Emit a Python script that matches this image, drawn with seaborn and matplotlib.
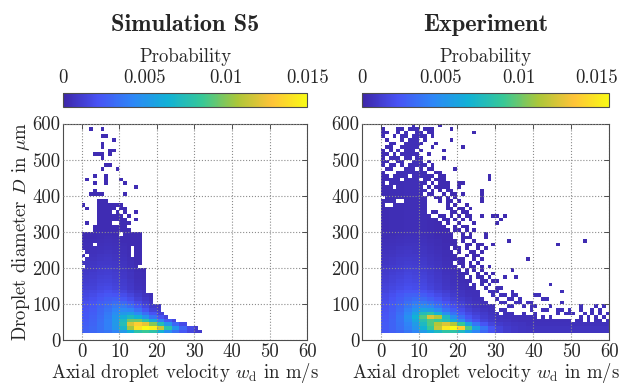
import numpy as np
import pandas as pd
import seaborn as sns
import matplotlib.pyplot as plt
from matplotlib.colors import LinearSegmentedColormap

# bin edges of the 2D histograms
v_edges = np.arange(0, 61, 1)      # axial velocity, m/s
d_edges = np.arange(20, 601, 10)   # diameter, um
cbar_ticks = [0, 0.005, 0.01, 0.015]
cbar_ticklabels = ['0', '0.005', '0.01', '0.015']

# ---------------- Simulation S5 ----------------
# upper edge (um) of the filled region for each 1 m/s velocity bin
sim_top = [300, 300, 300, 320, 390, 390, 390, 380, 380, 380, 380, 370, 330, 300, 300, 300,
           200, 130, 130, 100, 100, 80, 70, 60, 60, 50, 50, 50, 40, 40, 40, 30]
sim_holes = [(0, 240), (0, 220), (1, 230), (0, 200), (3, 260), (8, 350), (9, 360), (8, 320),
             (9, 320), (10, 290), (10, 350), (12, 310), (11, 340), (13, 250), (13, 240),
             (13, 230), (15, 200)]
sim_dots = [(2, 580), (5, 580), (5, 560), (6, 560), (8, 550), (5, 540), (5, 530), (7, 520),
            (8, 520), (7, 510), (3, 510), (4, 510), (5, 510), (5, 500), (6, 480), (7, 480),
            (9, 470), (5, 470), (1, 440), (3, 450), (6, 450), (6, 440), (6, 430), (10, 440),
            (11, 430), (3, 430), (14, 420), (3, 410), (2, 400), (3, 400), (4, 400), (5, 400),
            (11, 400), (0, 370), (1, 360), (1, 320), (14, 350), (14, 330), (12, 340)]
# probability (1e-4) for rows D = 20..140 um, columns v = 0-2, 2-4, ... 30-32 m/s
sim_low = [
    [28, 30, 33, 36, 42, 52, 65, 80, 85, 80, 65, 48, 34, 24, 16, 10],
    [27, 30, 34, 40, 50, 68, 105, 140, 150, 145, 115, 80, 50, 30, 18, 10],
    [26, 29, 34, 40, 52, 75, 118, 132, 122, 100, 75, 50, 30, 18, 10, 8],
    [25, 28, 33, 40, 52, 72, 95, 95, 80, 60, 40, 25, 16, 10, 8, 6],
    [24, 27, 32, 39, 50, 62, 72, 65, 50, 35, 22, 15, 10, 8, 6, 5],
    [23, 26, 31, 37, 46, 52, 55, 45, 33, 22, 14, 10, 8, 6, 5, 4],
    [22, 25, 30, 35, 42, 44, 42, 33, 22, 14, 10, 8, 6, 5, 4, 4],
    [21, 24, 28, 32, 37, 37, 32, 24, 16, 10, 8, 6, 5, 4, 4, 4],
    [20, 22, 26, 29, 32, 30, 25, 18, 12, 8, 6, 5, 4, 4, 4, 4],
    [18, 20, 23, 26, 27, 24, 19, 13, 9, 6, 5, 4, 4, 4, 4, 4],
    [16, 18, 21, 23, 22, 19, 15, 10, 7, 5, 4, 4, 4, 4, 4, 4],
    [15, 16, 18, 20, 18, 15, 11, 8, 6, 4, 4, 4, 4, 4, 4, 4],
    [13, 14, 16, 17, 15, 12, 9, 6, 5, 4, 4, 4, 4, 4, 4, 4],
]
sim_fade = [0.92, 0.85, 0.78, 0.72, 0.66, 0.6, 0.55, 0.5, 0.45, 0.4, 0.36, 0.32, 0.28, 0.25, 0.22, 0.2]

# ---------------- Experiment ----------------
exp_top = [460, 460, 450, 460, 470, 470, 480, 490, 500, 470, 440, 400, 360, 360, 360, 350,
           350, 340, 300, 280, 260, 230, 200, 180, 160, 140, 120, 110, 100, 100,
           90, 90, 90, 80, 80, 80, 80, 80, 80, 70, 80, 70, 70, 70, 70, 70, 60, 70, 60, 60,
           60, 60, 70, 60, 70, 60, 70, 60, 70, 60]
exp_holes = [(1, 370), (2, 370), (4, 380), (5, 380), (1, 430), (5, 440), (0, 390), (7, 450),
             (3, 420), (13, 340), (14, 340), (12, 350), (16, 320), (17, 310), (15, 330),
             (18, 250), (19, 240), (20, 230), (19, 210), (20, 200), (21, 190), (22, 170),
             (23, 150), (30, 80), (31, 70), (35, 70), (38, 70), (41, 60), (43, 60), (47, 60),
             (50, 50), (53, 50), (55, 50), (58, 50), (45, 60), (36, 70)]
# isolated cells above the filled region: diameter row -> velocity bins
exp_dots_top = {590: [8, 15], 580: [0, 4, 5, 7, 8, 9, 11, 12, 13, 18],
                570: [0, 1, 4, 6, 9, 10, 12, 13, 24], 560: [0, 3, 5, 6, 8, 9, 10, 11, 13],
                550: [1, 5, 7, 8, 9, 11, 18], 540: [2, 3, 6, 7, 8, 9, 10, 14],
                530: [1, 2, 5, 6, 7, 8, 9, 13, 21], 520: [0, 2, 4, 6, 7, 8, 10, 16],
                510: [0, 1, 3, 5, 6, 7, 8, 9, 12], 500: [0, 2, 3, 4, 6, 7, 9, 10, 16],
                490: [0, 1, 4, 5, 8, 9, 10, 12], 480: [0, 2, 3, 5, 7, 9, 10, 11, 13],
                470: [1, 2, 6, 10, 12, 13, 19], 460: [0, 4, 5, 9, 10, 11, 14, 15],
                450: [3, 10, 11, 12, 13, 15, 16, 28], 440: [11, 12, 14, 15, 16, 28],
                430: [11, 13, 15, 16, 17, 20, 21], 420: [12, 14, 15, 16, 17, 20],
                410: [11, 13, 15, 17, 18, 26], 400: [12, 13, 16, 18, 19, 21, 26]}
exp_dots_mid = {390: [14, 15, 17, 19, 26], 380: [15, 17, 18, 20, 26], 370: [17, 19, 22],
                360: [17, 18, 20, 21, 23], 350: [18, 19, 21, 22],
                340: [18, 20, 22, 23, 26, 29, 30, 32], 330: [19, 21, 23, 31], 320: [20, 24, 30],
                310: [19, 21, 22], 300: [19, 20, 22, 24], 290: [21, 23, 27],
                280: [21, 22, 23, 27], 270: [21, 24, 33, 53], 260: [22, 23, 25, 26, 29, 46],
                250: [22, 25, 27], 240: [23, 24, 26], 230: [22, 24, 25], 220: [24, 26, 38],
                210: [23, 25], 200: [23, 24, 26, 28]}
exp_dots_tail = {190: [24, 26, 34], 180: [25, 27, 29], 170: [25, 26, 28, 32, 35],
                 160: [26, 27, 29, 30], 150: [26, 28, 44], 140: [27, 30, 31],
                 130: [28, 29, 30, 34, 47], 120: [29, 31, 32, 34, 35, 40, 41],
                 110: [30, 33, 34, 36, 42, 43], 100: [31, 32, 35, 36, 38, 39, 47],
                 90: [33, 34, 37, 39, 40, 44, 52, 56, 58],
                 80: [39, 42, 43, 46, 47, 49, 52, 55, 57], 70: [46, 48, 49, 50, 53, 55, 57, 59]}
# probability (1e-4) for rows D = 20..140 um, columns v = 0-2, 2-4, ... 38-40 m/s
exp_low = [
    [25, 28, 32, 38, 45, 55, 65, 75, 85, 85, 75, 60, 45, 32, 22, 15, 11, 9, 8, 7],
    [26, 30, 35, 42, 52, 68, 90, 120, 150, 158, 140, 95, 60, 38, 24, 15, 11, 9, 8, 7],
    [26, 30, 36, 44, 56, 75, 95, 115, 125, 115, 90, 60, 38, 24, 16, 11, 9, 8, 7, 6],
    [25, 30, 37, 47, 62, 82, 95, 90, 80, 65, 48, 32, 22, 15, 11, 8, 7, 6, 5, 5],
    [24, 29, 37, 50, 68, 95, 125, 115, 75, 50, 35, 24, 17, 12, 9, 7, 6, 5, 5, 5],
    [23, 28, 35, 46, 60, 78, 85, 70, 50, 36, 26, 18, 13, 10, 7, 6, 5, 5, 5, 5],
    [22, 27, 33, 42, 52, 60, 58, 48, 36, 27, 20, 14, 10, 8, 6, 5, 5, 5, 5, 5],
    [21, 26, 31, 38, 45, 48, 45, 37, 28, 21, 16, 11, 8, 6, 5, 5, 5, 5, 5, 5],
    [20, 25, 29, 35, 40, 40, 36, 30, 23, 17, 13, 9, 7, 5, 5, 5, 5, 5, 5, 5],
    [19, 23, 27, 31, 34, 33, 29, 24, 18, 14, 10, 8, 6, 5, 5, 5, 5, 5, 5, 5],
    [18, 21, 25, 28, 29, 27, 23, 19, 15, 11, 8, 6, 5, 5, 5, 5, 5, 5, 5, 5],
    [16, 19, 22, 24, 24, 22, 19, 15, 12, 9, 7, 5, 5, 5, 5, 5, 5, 5, 5, 5],
    [15, 17, 19, 21, 20, 18, 15, 12, 9, 7, 5, 4, 4, 4, 4, 4, 4, 4, 4, 4],
]
exp_fade = [0.93, 0.86, 0.8, 0.74, 0.68, 0.62, 0.57, 0.52, 0.47, 0.43, 0.39, 0.35, 0.31, 0.28, 0.25, 0.22]


def build(top, holes, dots, low, fade, floor=3):
    cells = set()
    for v, t in enumerate(top):
        for d in range(20, t, 10):
            cells.add((v, d))
    cells -= set(holes)
    cells |= set(dots)
    recs = []
    for v, d in sorted(cells):
        g = min(v // 2, len(low[0]) - 1)
        r = (d - 20) // 10
        if r < len(low):
            p = low[r][g]
        else:
            p = low[-1][g] * fade[min(r - len(low), len(fade) - 1)]
        recs.append({'v': v + 0.5, 'D': d + 5, 'p': max(p, floor) * 1e-4})
    return pd.DataFrame(recs)


def row_dots(*tables):
    return [(v, d) for t in tables for d, vs in t.items() for v in vs]


sim = build(sim_top, sim_holes, sim_dots, sim_low, sim_fade)
exp = build(exp_top, exp_holes, row_dots(exp_dots_top, exp_dots_mid, exp_dots_tail),
            exp_low, exp_fade)

parula = LinearSegmentedColormap.from_list('parula', [
    (0.2422, 0.1504, 0.6603), (0.2810, 0.3228, 0.9579), (0.1786, 0.5289, 0.9682),
    (0.0689, 0.6948, 0.8394), (0.2161, 0.7843, 0.5923), (0.6720, 0.7793, 0.2227),
    (0.9970, 0.7659, 0.2199), (0.9769, 0.9839, 0.0805)])

sns.set_style('white')
plt.rcParams['font.family'] = ['cmr10', 'DejaVu Serif']
plt.rcParams['mathtext.fontset'] = 'cm'
plt.rcParams['axes.unicode_minus'] = False
fs = 13.5
edge = '#4d4d4d'

fig = plt.figure(figsize=(6.2, 3.85), dpi=100)
panels = [
    (sim, 'Simulation S5', 0.1015, 0.394, 0.015),
    (exp, 'Experiment', 0.5840, 0.399, 0.0158),
]
for i, (df, title, left, width, vmax) in enumerate(panels):
    ax = fig.add_axes([left, 0.1156, width, 0.5636])
    cax = fig.add_axes([left, 0.7229, width, 0.0364])
    sns.histplot(data=df, x='v', y='D', weights='p', bins=(v_edges, d_edges),
                 cmap=parula, vmin=0, vmax=vmax, cbar=True, cbar_ax=cax,
                 cbar_kws={'orientation': 'horizontal'}, ax=ax)
    ax.set_xlim(-5, 60)
    ax.set_ylim(0, 600)
    ax.set_xticks(range(0, 61, 10))
    ax.set_yticks(range(0, 601, 100))
    ax.grid(True, linestyle=':', color='#8c8c8c', linewidth=0.8)
    ax.set_axisbelow(False)
    ax.tick_params(direction='in', top=True, right=True, length=3.5, width=0.7,
                   color=edge, labelsize=fs, pad=2)
    for s in ax.spines.values():
        s.set_color(edge)
        s.set_linewidth(0.8)
    ax.set_xlabel(r'Axial droplet velocity $w_\mathrm{d}$ in m/s', fontsize=fs, labelpad=0)
    if i == 0:
        ax.set_ylabel(r'Droplet diameter $D$ in $\mu$m', fontsize=fs, labelpad=0)
    else:
        ax.set_ylabel('')

    cax.xaxis.set_ticks_position('top')
    cax.xaxis.set_label_position('top')
    cax.set_xticks(cbar_ticks)
    cax.set_xticklabels(cbar_ticklabels)
    cax.tick_params(direction='in', length=3, width=0.7, color=edge, labelsize=fs, pad=4)
    cax.set_xlabel('Probability', fontsize=fs, labelpad=5)
    for s in cax.spines.values():
        s.set_color(edge)
        s.set_linewidth(0.8)

    fig.text(left + width / 2, 0.935, title, ha='center', va='center',
             fontsize=17.5, family='cmb10')

fig.savefig('out.png', dpi=100)
